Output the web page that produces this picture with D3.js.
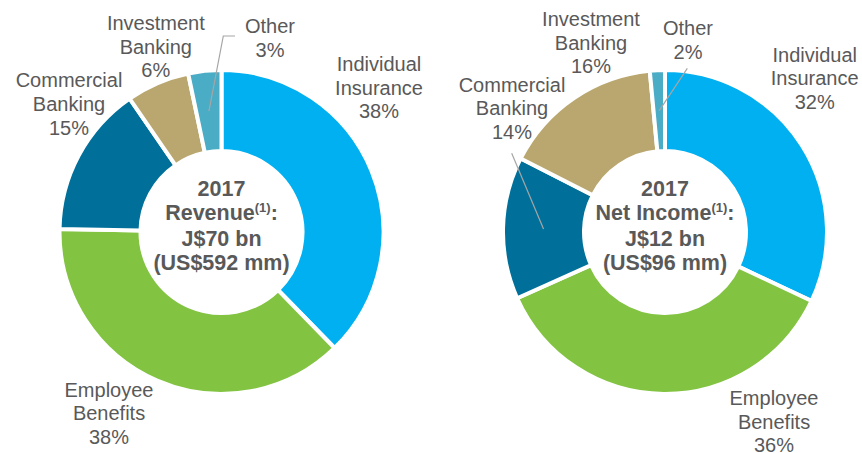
<!DOCTYPE html>
<meta charset="utf-8">
<style>
	body {
		margin:			0;
		background:		#fff;
	}
	svg text {
		font-family:	"Liberation Sans", Arial, sans-serif;
		fill:			#595959;
	}
	.label {
		font-size:		20px;
	}
	.centre {
		font-size:		21.5px;
		font-weight:	bold;
	}
</style>
<body>
<script src="https://d3js.org/d3.v7.min.js"></script>
<script>

	//Segments, clockwise from 12 o'clock, same order in both donuts
	var segments = ["Individual Insurance", "Employee Benefits", "Commercial Banking", "Investment Banking", "Other"];
	var colors = ["#00b0f0", "#82c341", "#00709a", "#b9a76f", "#4bacc6"];

	var revenueShare = [37.7, 37.6, 15.1, 6.3, 3.3];
	var revenueLabels = ["38%", "38%", "15%", "6%", "3%"];
	var incomeShare = [32.0, 36.3, 14.2, 16.0, 1.5];
	var incomeLabels = ["32%", "36%", "14%", "16%", "2%"];

	//Centre captions
	var revenueTitle = ["2017", "Revenue", "J$70 bn", "(US$592 mm)"];
	var incomeTitle = ["2017", "Net Income", "J$12 bn", "(US$96 mm)"];

	var width = 862;
	var height = 453;
	var lineHeight = 23.7;

	var svg = d3.select("body")
				.append("svg")
				.attr("width", width)
				.attr("height", height);

	var pie = d3.pie()
				.sort(null)
				.value(function(d) { return d; });

	var arc = d3.arc()
				.innerRadius(81)
				.outerRadius(162);

	//Draws one donut with its labels; layout holds label offsets from the centre
	function donut(cx, cy, shares, pcts, title, layout) {
		var g = svg.append("g")
					.attr("transform", "translate(" + cx + "," + cy + ")");

		var slices = pie(shares);

		g.selectAll("path")
			.data(slices)
			.enter()
			.append("path")
			.attr("d", arc)
			.attr("fill", function(d, i) { return colors[i]; })
			.attr("stroke", "#fff")
			.attr("stroke-width", 4);

		//Leader lines from the slice centre out to the label
		Object.keys(layout.leaders).forEach(function(k) {
			var pts = [arc.centroid(slices[k])].concat(layout.leaders[k]);
			g.append("path")
				.attr("d", d3.line()(pts))
				.attr("fill", "none")
				.attr("stroke", "#a6a6a6")
				.attr("stroke-width", 1.2);
		});

		//Outside labels: name split on the space, then the percentage
		var labels = g.selectAll("text.label")
					.data(segments)
					.enter()
					.append("text")
					.attr("class", "label")
					.attr("text-anchor", "middle")
					.attr("transform", function(d, i) {
						return "translate(" + layout.labels[i][0] + "," + layout.labels[i][1] + ")";
					});

		labels.selectAll("tspan")
			.data(function(d, i) { return d.split(" ").concat([pcts[i]]); })
			.enter()
			.append("tspan")
			.attr("x", 0)
			.attr("y", function(d, j) { return j * lineHeight; })
			.text(function(d) { return d; });

		//Centre caption
		var offsets = [-36, -12, 14, 38];
		title.forEach(function(t, j) {
			var txt = g.append("text")
						.attr("class", "centre")
						.attr("text-anchor", "middle")
						.attr("y", offsets[j])
						.text(t);
			if (j == 1) {
				txt.append("tspan")
					.attr("font-size", "13px")
					.attr("dy", -8)
					.text("(1)");
				txt.append("tspan")
					.attr("dy", 8)
					.text(":");
			}
		});
	}

	donut(221.5, 232, revenueShare, revenueLabels, revenueTitle, {
		labels: [[157.5, -161], [-112.5, 164.7], [-152.5, -144.7], [-65.7, -202], [48.5, -198.7]],
		leaders: { 4: [[1.8, -196], [13.5, -196]] }
	});

	donut(665, 232, incomeShare, incomeLabels, incomeTitle, {
		labels: [[149.7, -170.3], [109, 173], [-153, -140.3], [-74, -206], [23, -197]],
		leaders: { 2: [[-153.3, -78.7]], 4: [[22.3, -163.7]] }
	});

</script>
</body>
